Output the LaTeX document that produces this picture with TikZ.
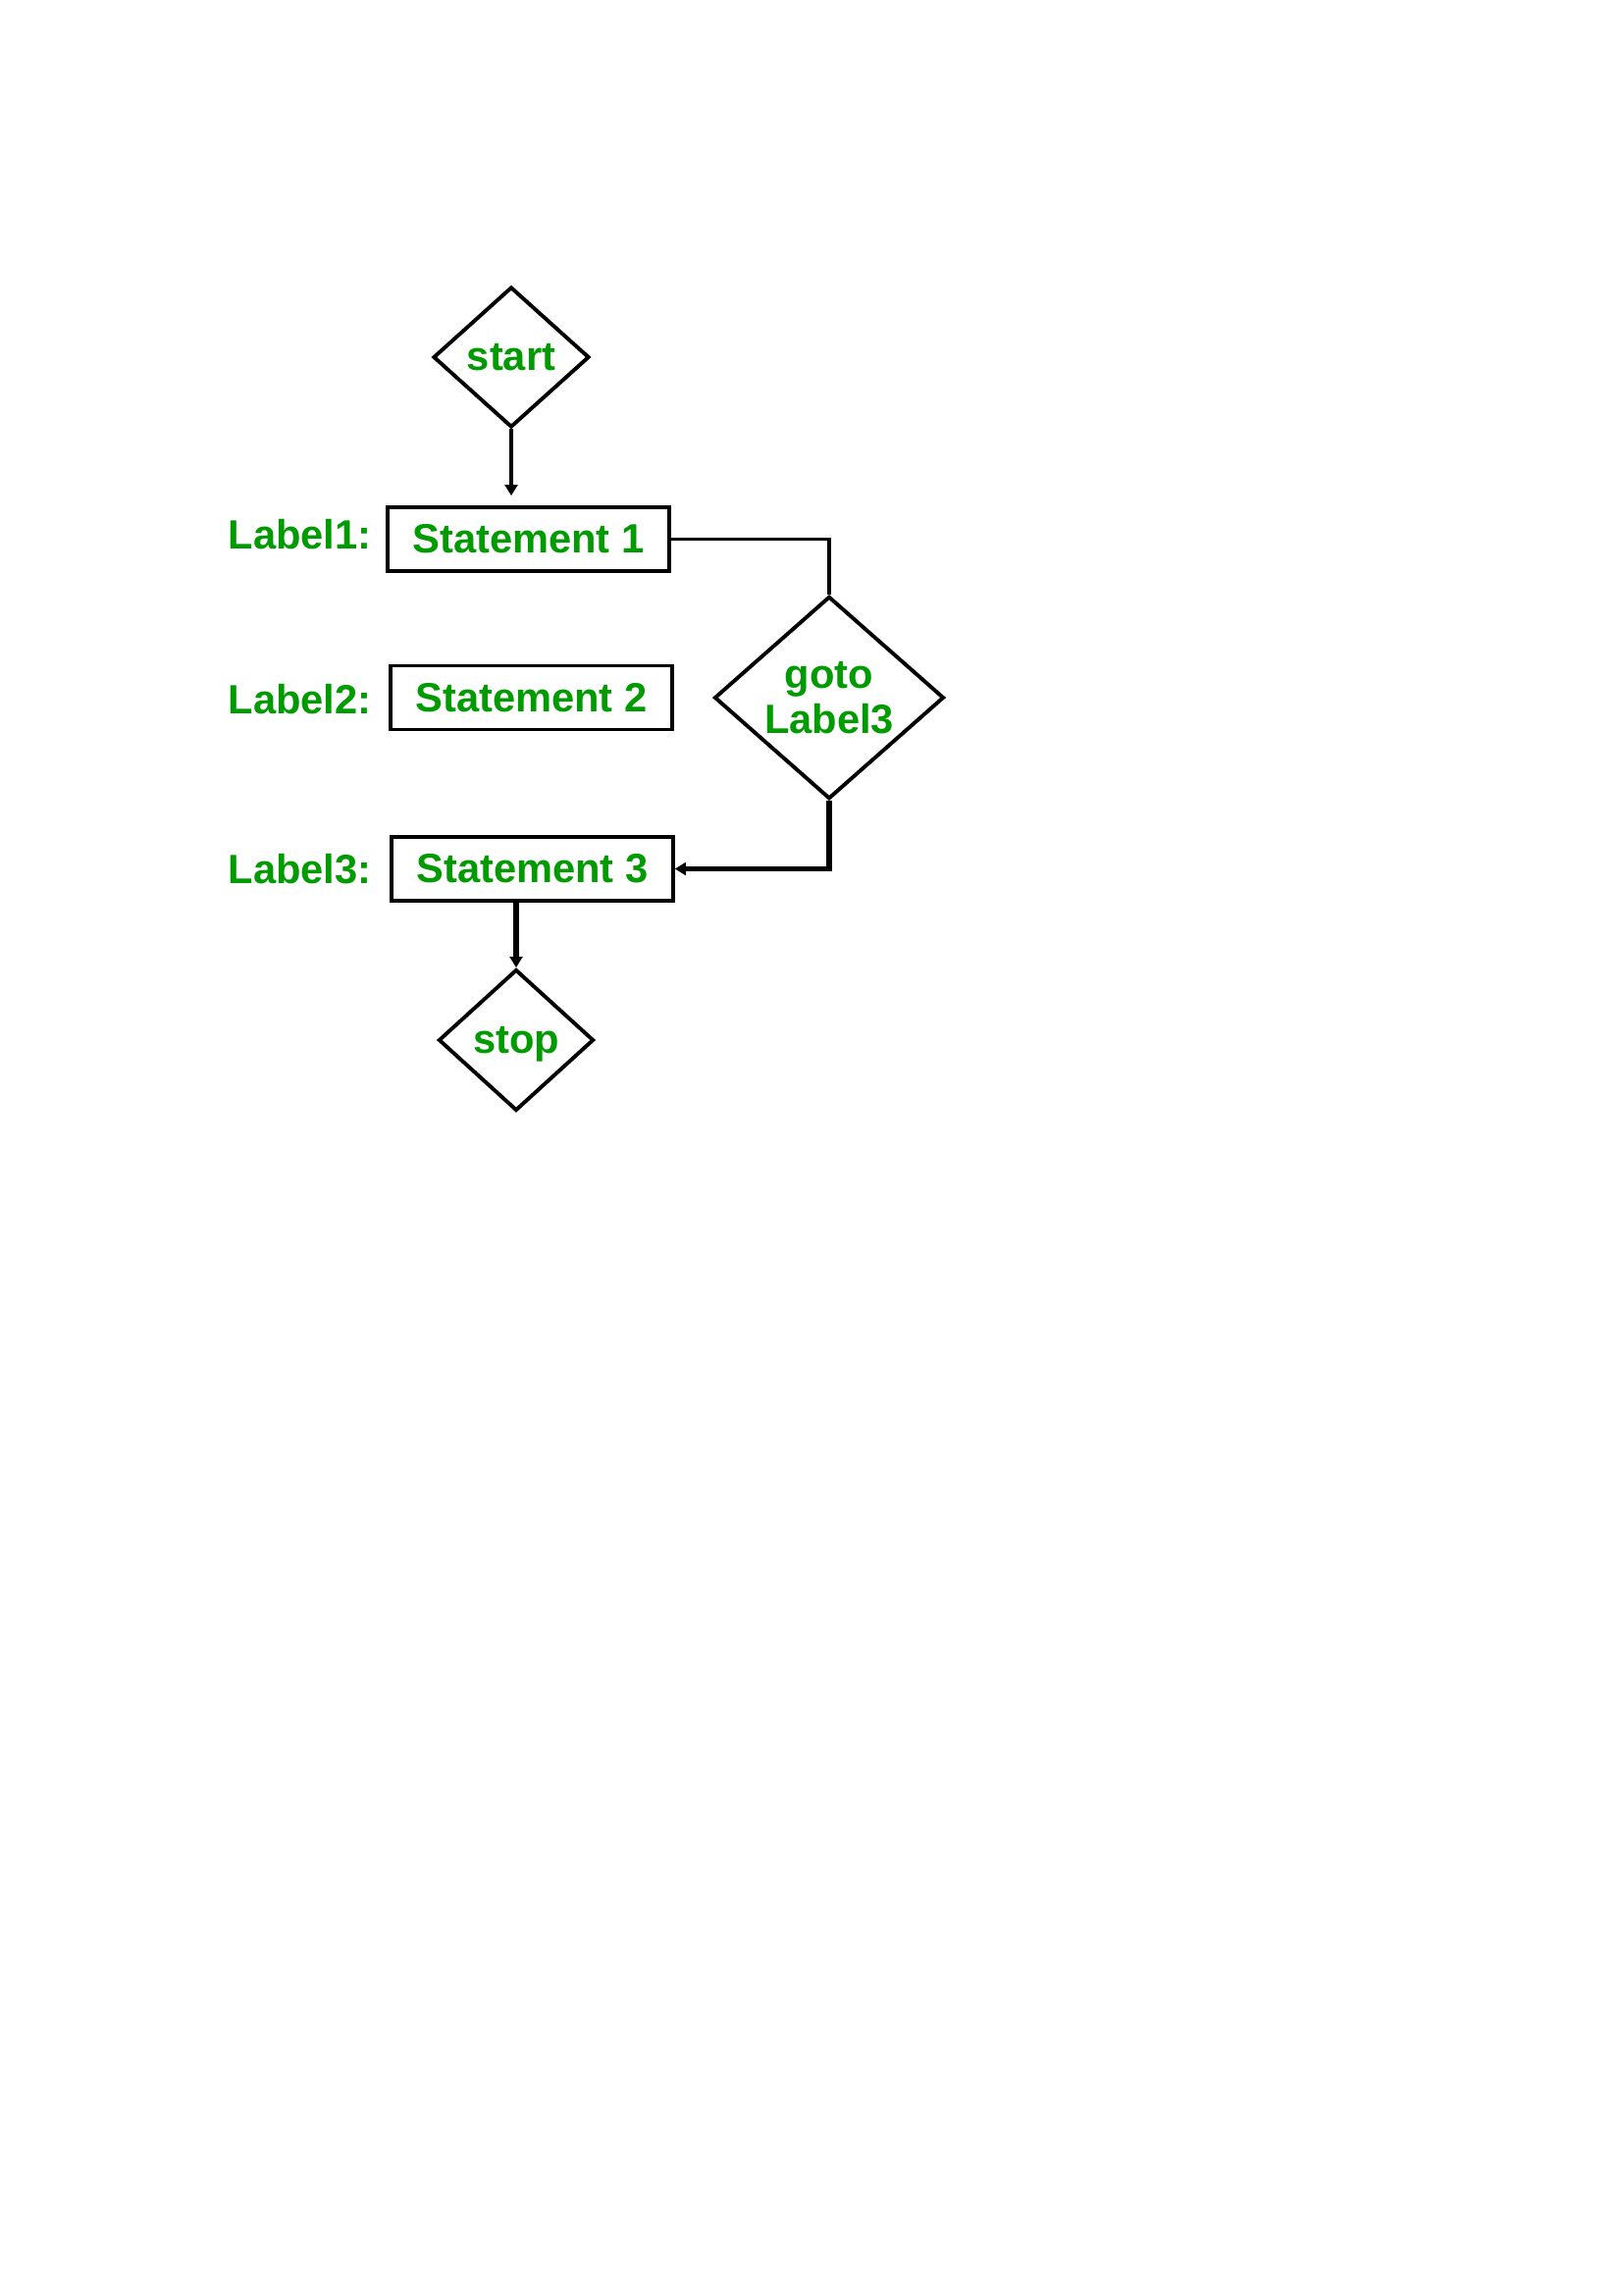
\documentclass[tikz,border=0pt]{standalone}
\usepackage{fontspec}
\setmainfont{Liberation Sans}
\usetikzlibrary{shapes.geometric,arrows.meta}
\definecolor{txtgreen}{RGB}{0,155,0}
\begin{document}
\begin{tikzpicture}[x=0.36pt,y=-0.36pt,
  every node/.style={font=\fontsize{15pt}{16.8pt}\selectfont\bfseries, text=txtgreen},
  diam/.style={draw=black, line width=1.4pt, shape=diamond, inner sep=0pt},
  stmtbox/.style={draw=black, line width=1.3pt, rectangle, minimum width=103.3pt, minimum height=23.4pt, inner sep=0pt},
  lbl/.style={anchor=east, inner sep=0pt},
  thin/.style={draw=black, line width=1.2pt},
  thick/.style={draw=black, line width=2.1pt},
  tip/.style={-{Triangle[length=4pt,width=4.6pt]}}
]
\useasboundingbox (0,0) rectangle (1654,2339);
\fill[white] (0,0) rectangle (1654,2339);

\node[diam, minimum width=57.2pt, minimum height=51.5pt] (start) at (521,364) {start};
\node[stmtbox] (s1) at (538.5,549.5) {Statement 1};
\node[stmtbox] (s2) at (541.5,711) {Statement 2};
\node[stmtbox] (s3) at (542.5,885.5) {Statement 3};
\node[diam, minimum width=84.2pt, minimum height=74.2pt, align=center] (goto) at (845,711) {goto\\Label3};
\node[diam, minimum width=56.9pt, minimum height=51.8pt, text depth=0pt] (stop) at (526,1060) {stop};

\node[lbl] (l1) at (379,545) {Label1:};
\node[lbl] (l2) at (379,713) {Label2:};
\node[lbl] (l3) at (379,886) {Label3:};

\draw[thin, line width=1.4pt, tip, shorten >=3.6pt] (start.south) -- (start.south |- s1.north);
\draw[thin] (s1.east) -| (goto.north);
\draw[thick, tip] (goto.south) |- (s3.east);
\draw[thick, tip] (stop.north |- s3.south) -- (stop.north);
\end{tikzpicture}
\end{document}
